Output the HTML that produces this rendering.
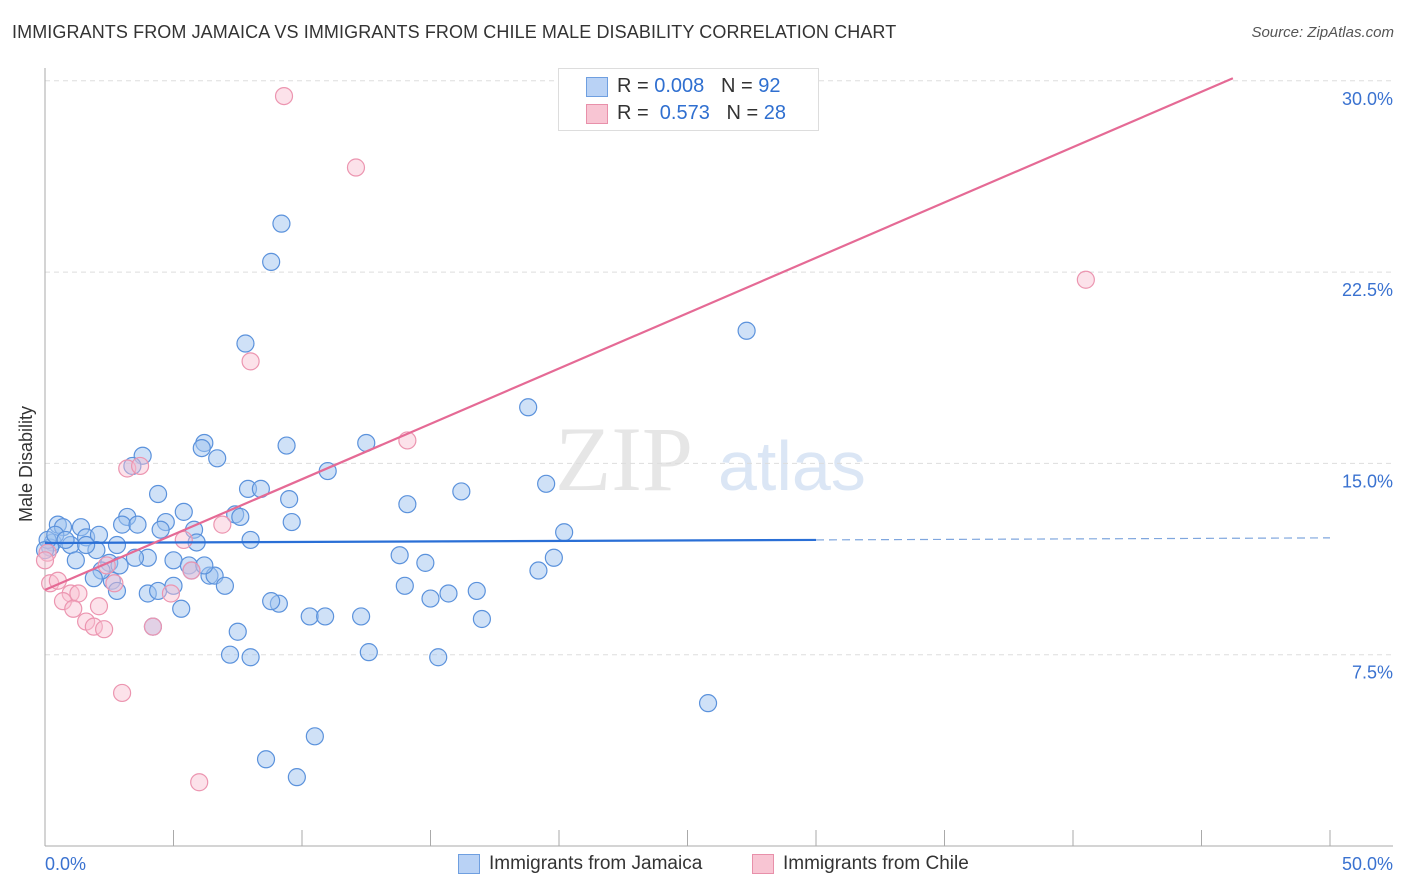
<!DOCTYPE html>
<html><head><meta charset="utf-8">
<style>
body{margin:0;background:#fff;font-family:"Liberation Sans",sans-serif;}
#wrap{position:relative;width:1406px;height:892px;overflow:hidden;}
.t{position:absolute;white-space:nowrap;}
</style></head>
<body>
<div id="wrap">
<div class="t" style="left:12px;top:22px;font-size:18px;color:#333;letter-spacing:0.1px">IMMIGRANTS FROM JAMAICA VS IMMIGRANTS FROM CHILE MALE DISABILITY CORRELATION CHART</div>
<div class="t" style="right:12px;top:24px;font-size:15px;color:#555;font-style:italic">Source: ZipAtlas.com</div>
<div class="t" style="left:8px;top:455px;font-size:18px;color:#333;transform:rotate(-90deg);transform-origin:left top;top:522px;left:16px">Male Disability</div>
<svg id="svg" width="1406" height="892" style="position:absolute;left:0;top:0"></svg>
<div style="position:absolute;left:558px;top:68px;width:259px;height:61px;border:1px solid #ddd;background:#fff;font-size:20px">
 <div class="t" style="left:27px;top:8px;width:20px;height:18px;background:#b9d2f5;border:1px solid #6f9fe0"></div>
 <div class="t" style="left:58px;top:6px;color:#333">R = <span style="color:#2f6fd0">0.008</span>&nbsp;&nbsp;&nbsp;N = <span style="color:#2f6fd0">92</span></div>
 <div class="t" style="left:27px;top:35px;width:20px;height:18px;background:#f8c5d3;border:1px solid #e890aa"></div>
 <div class="t" style="left:58px;top:33px;color:#333">R = &nbsp;<span style="color:#2f6fd0">0.573</span>&nbsp;&nbsp;&nbsp;N = <span style="color:#2f6fd0">28</span></div>
</div>
<div class="t" style="left:458px;top:854px;width:20px;height:18px;background:#b9d2f5;border:1px solid #6f9fe0"></div>
<div class="t" style="left:489px;top:853px;font-size:19px;color:#333">Immigrants from Jamaica</div>
<div class="t" style="left:752px;top:854px;width:20px;height:18px;background:#f8c5d3;border:1px solid #e890aa"></div>
<div class="t" style="left:783px;top:853px;font-size:19px;color:#333">Immigrants from Chile</div>
</div>
<script>
const xTickLabels=["0.0%","50.0%"];
const yTicks=[7.5,15,22.5,30];
const yTickLabels=["7.5%","15.0%","22.5%","30.0%"];
const jamX=[9.2,8.8,7.8,27.3,18.8,12.5,9.4,6.2,6.1,6.7,3.8,3.4,11.0,4.4,7.9,8.4,7.4,9.5,5.4,3.2,4.7,3.0,3.6,4.5,9.6,7.6,14.1,16.2,19.5,20.2,5.8,5.9,0.5,0.7,1.4,1.6,2.1,2.8,0.3,1.0,2.0,4.0,3.5,5.0,5.6,13.8,19.8,14.8,1.2,2.5,2.6,2.2,1.9,5.7,6.4,6.6,7.0,2.8,4.0,4.4,5.0,5.3,9.1,10.3,10.9,12.3,14.0,15.7,16.8,15.0,19.2,17.0,4.2,7.5,7.2,8.0,12.6,15.3,25.8,10.5,8.6,9.8,0.2,0.1,0.4,0.0,0.8,2.9,1.6,8.0,6.2,8.8];
const jamY=[24.4,22.9,19.7,20.2,17.2,15.8,15.7,15.8,15.6,15.2,15.3,14.9,14.7,13.8,14.0,14.0,13.0,13.6,13.1,12.9,12.7,12.6,12.6,12.4,12.7,12.9,13.4,13.9,14.2,12.3,12.4,11.9,12.6,12.5,12.5,12.1,12.2,11.8,11.9,11.8,11.6,11.3,11.3,11.2,11.0,11.4,11.3,11.1,11.2,11.1,10.4,10.8,10.5,10.8,10.6,10.6,10.2,10.0,9.9,10.0,10.2,9.3,9.5,9.0,9.0,9.0,10.2,9.9,10.0,9.7,10.8,8.9,8.6,8.4,7.5,7.4,7.6,7.4,5.6,4.3,3.4,2.7,11.7,12.0,12.2,11.6,12.0,11.0,11.8,12.0,11.0,9.6];
const chiX=[9.3,12.1,40.5,8.0,14.1,3.2,3.7,6.9,5.4,0.1,0.2,0.5,1.0,2.4,2.7,0.7,1.3,1.1,2.1,1.6,1.9,2.3,4.2,4.9,5.7,3.0,6.0,0.0];
const chiY=[29.4,26.6,22.2,19.0,15.9,14.8,14.9,12.6,12.0,11.5,10.3,10.4,9.9,11.0,10.3,9.6,9.9,9.3,9.4,8.8,8.6,8.5,8.6,9.9,10.8,6.0,2.5,11.2];
const jamTrend=[11.88,0.004];
const chiTrend=[10.04,0.434];
const svg=document.getElementById('svg');const NS='http://www.w3.org/2000/svg';
const X=v=>45+v*25.7, Y=v=>846-v*25.507;
function mk(t,a){const e=document.createElementNS(NS,t);for(const k in a)e.setAttribute(k,a[k]);svg.appendChild(e);return e;}
let wm=mk('text',{x:555,y:490,'font-size':92,fill:'#e6e6e6','font-family':'Liberation Serif,serif'});wm.textContent='ZIP';


let wm2=mk('text',{x:718,y:490,'font-size':70,fill:'#dbe6f5','font-family':'Liberation Sans,sans-serif'});wm2.textContent='atlas';


yTicks.forEach((v,i)=>{
 let g=mk('line',{x1:45,x2:1393,y1:Y(v),y2:Y(v),stroke:'#ddd','stroke-dasharray':'5,4'});
 
 
 let t=mk('text',{x:1393,y:Y(v)+24,'text-anchor':'end','font-size':18,fill:'#3a72d0','font-family':'Liberation Sans,sans-serif'});t.textContent=yTickLabels[i];
 
 
});
let ax=mk('line',{x1:45,x2:1393,y1:846,y2:846,stroke:'#aaa'});


let ay=mk('line',{x1:45,x2:45,y1:68,y2:846,stroke:'#aaa'});


for(let i=1;i<=10;i++){let tk=mk('line',{x1:X(i*5),x2:X(i*5),y1:830,y2:846,stroke:'#aaa'});
 
 }
[[0,xTickLabels[0],'start',45],[50,xTickLabels[1],'end',1393]].forEach(a=>{
 let t=mk('text',{x:a[3],y:870,'text-anchor':a[2],'font-size':18,fill:'#3a72d0','font-family':'Liberation Sans,sans-serif'});t.textContent=a[1];
 
 
});
jamX.forEach((x,i)=>{let c=mk('circle',{cx:X(x),cy:Y(jamY[i]),r:8.5,fill:'rgba(160,195,240,0.5)',stroke:'#5b92dc','stroke-width':1.2});
 
 });
chiX.forEach((x,i)=>{let c=mk('circle',{cx:X(x),cy:Y(chiY[i]),r:8.5,fill:'rgba(248,190,208,0.45)',stroke:'#ec95b0','stroke-width':1.2});
 
 });
let l1=mk('line',{x1:X(0),y1:Y(jamTrend[0]),x2:X(30),y2:Y(jamTrend[0]+30*jamTrend[1]),stroke:'#2a6fd6','stroke-width':2.2});


let l1b=mk('line',{x1:X(30),y1:Y(jamTrend[0]+30*jamTrend[1]),x2:X(50),y2:Y(jamTrend[0]+50*jamTrend[1]),stroke:'#7fa6de','stroke-width':1.2,'stroke-dasharray':'8,5'});


const xe=(30.1-chiTrend[0])/chiTrend[1];
let l2=mk('line',{x1:X(0),y1:Y(chiTrend[0]),x2:X(xe),y2:Y(chiTrend[0]+xe*chiTrend[1]),stroke:'#e56a95','stroke-width':2.2});


</script>
</body></html>
